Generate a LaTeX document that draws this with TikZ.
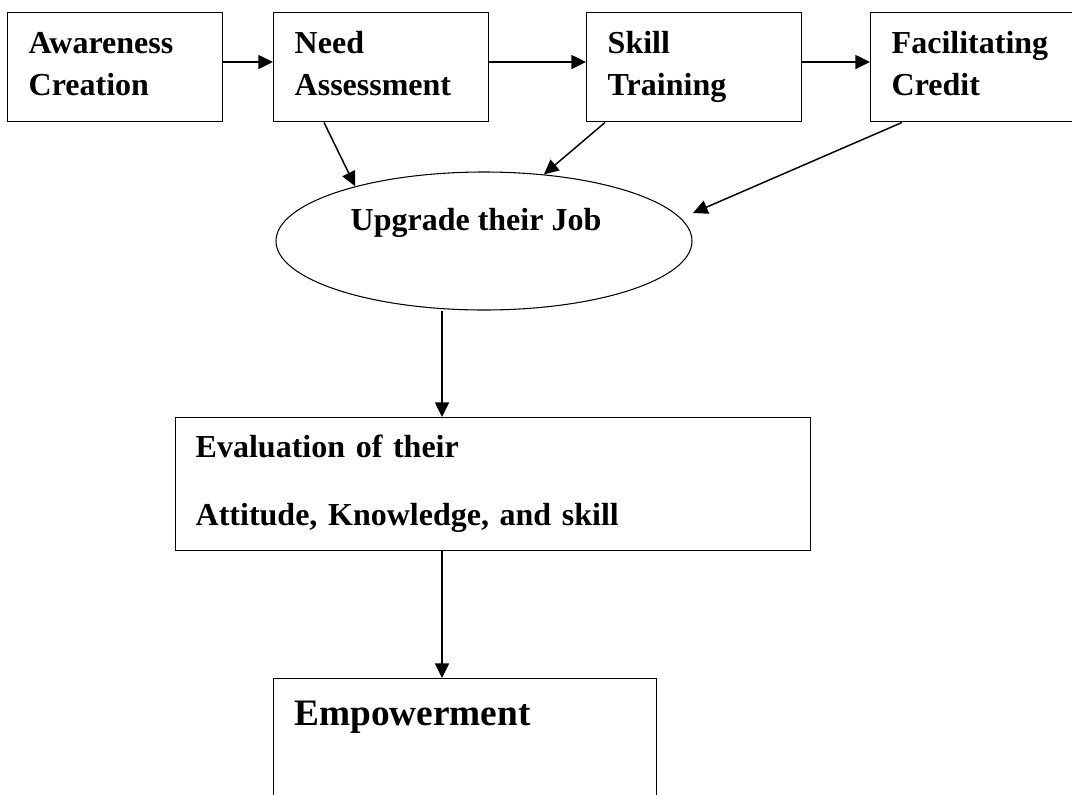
\documentclass[tikz,border=0pt]{standalone}
\usepackage{fontspec}
\setmainfont{Liberation Serif}
\usetikzlibrary{arrows.meta,calc,shapes.geometric}

\begin{document}
\begin{tikzpicture}[x=0.75pt,y=-0.75pt,
        topbox/.style={draw, black, line width=1.1pt, anchor=north west, align=left,
            minimum width=161.25pt, minimum height=81.75pt, text width=129.75pt, inner xsep=15.75pt,
            font=\bfseries\fontsize{24}{31.5}\selectfont},
        link/.style={black, line width=1.1pt, -{Triangle[length=11pt,width=10.5pt]}}]
        \clip (0,0) rectangle (1072,794);
        \coordinate (row) at (0,62);
        \coordinate (spine) at (442,0);

        \node[topbox] (aware) at (7,12) {Awareness\\Creation\vphantom{g}};
        \node[topbox] (need) at (273,12) {Need\\Assessment\vphantom{g}};
        \node[topbox] (skill) at (586,12) {Skill\\Training};
        \node[topbox] (credit) at (870,12) {Facilitating\\Credit\vphantom{g}};

        \node[ellipse, draw, black, line width=0.8pt, minimum width=312pt, minimum height=103.5pt, inner sep=0pt] (job) at (484,241) {};
        \node[anchor=base, inner sep=0pt, font=\bfseries\fontsize{24}{31.5}\selectfont] (jobtext) at (476,230) {Upgrade their Job};
        \coordinate (jobtip) at (693,213);

        \node[draw, black, line width=1.1pt, anchor=north west, align=left,
            minimum width=476.25pt, minimum height=99.75pt, text width=446.25pt, inner xsep=15pt,
            font=\bfseries\fontsize{24}{51}\selectfont] (eval) at (175,417) {Evaluation of their\\Attitude, Knowledge, and skill};

        \node[draw, black, line width=1.1pt, anchor=north west, minimum width=287.25pt, minimum height=112.5pt] (empower) at (273,678) {};
        \node[anchor=base west, inner sep=0pt, font=\bfseries\fontsize{28}{34}\selectfont] (emptext) at ($(empower.north west)+(21,47)$) {Empowerment};

        \draw[link] (aware.east |- row) -- (need.west |- row);
        \draw[link] (need.east |- row) -- (skill.west |- row);
        \draw[link] (skill.east |- row) -- (credit.west |- row);
        \draw[link] ($(need.south west)+(51,0)$) -- (job.157);
        \draw[link] ($(skill.south west)+(19,0)$) -- (job.48);
        \draw[link] ($(credit.south west)+(32,0)$) -- (jobtip);
        \draw[link] (job.south -| spine) -- (eval.north -| spine);
        \draw[link] (eval.south -| spine) -- (empower.north -| spine);
    \end{tikzpicture}
\end{document}
